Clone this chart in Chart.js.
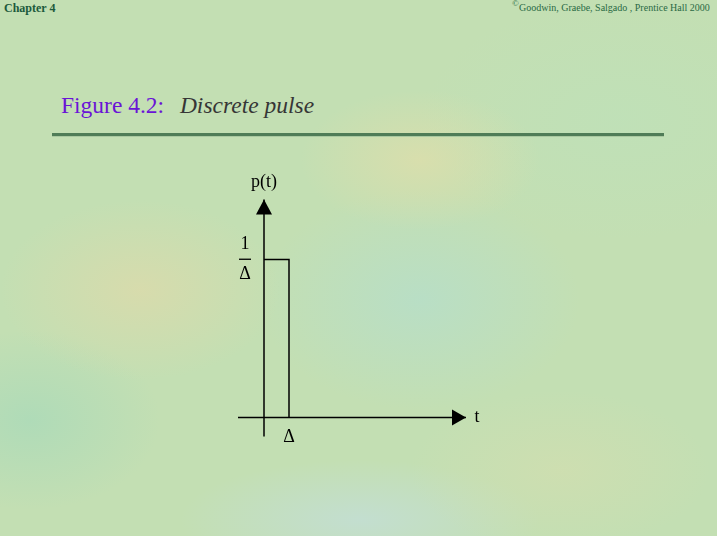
<!DOCTYPE html>
<html>
<head>
<meta charset="utf-8">
<script src="https://cdn.jsdelivr.net/npm/chart.js@4/dist/chart.umd.min.js"></script>
<style>
  html, body { margin: 0; padding: 0; }
  body {
    width: 717px; height: 536px; overflow: hidden; position: relative;
    background-color: #c3dfb3;
    background-image:
      radial-gradient(ellipse 140px 90px at 140px 290px, rgba(222,218,170,0.75), rgba(222,218,170,0) 100%),
      radial-gradient(ellipse 120px 70px at 420px 160px, rgba(225,222,170,0.7), rgba(225,222,170,0) 100%),
      radial-gradient(ellipse 160px 110px at 420px 300px, rgba(180,222,205,0.7), rgba(180,222,205,0) 100%),
      radial-gradient(ellipse 130px 90px at 30px 420px, rgba(170,218,185,0.8), rgba(170,218,185,0) 100%),
      radial-gradient(ellipse 150px 80px at 560px 470px, rgba(210,222,175,0.7), rgba(210,222,175,0) 100%),
      radial-gradient(ellipse 200px 120px at 620px 120px, rgba(190,225,185,0.7), rgba(190,225,185,0) 100%),
      radial-gradient(ellipse 180px 60px at 360px 520px, rgba(195,222,215,0.8), rgba(195,222,215,0) 100%);
  }
  .chap { position: absolute; left: 4px; top: 1px; font: bold 12px "Liberation Serif", serif; color: #1c5a3c; }
  .copy { position: absolute; left: 519px; top: 2px; font: 10px "Liberation Serif", serif; color: #2a6a45; }
  .copy .dot { position: absolute; left: -7px; top: -4px; font-size: 9px; }
  .title { position: absolute; left: 61px; top: 92px; font: 23.5px "Liberation Serif", serif; color: #6a14d6; white-space: pre; }
  .title i { color: #363636; margin-left: 4px; }
  .rule { position: absolute; left: 52px; top: 133px; width: 612px; height: 3px; background: #4f7c57; border-bottom: 1px solid #a9c9a0; }
  #wrap { position: absolute; left: 214px; top: 149px; width: 300px; height: 316px; }
</style>
</head>
<body>
<div class="chap">Chapter 4</div>
<div class="copy"><span class="dot">&copy;</span>Goodwin, Graebe, Salgado , Prentice Hall 2000</div>
<div class="title">Figure 4.2:  <i>Discrete pulse</i></div>
<div class="rule"></div>
<div id="wrap"><canvas id="grafico" width="300" height="316"></canvas></div>
<script>
// dados do pulso discreto (t em unidades de delta, p em unidades de 1/delta)
const pulsoT = [0, 1, 1];
const pulsoP = [1, 1, 0];

// eixos desenhados como linhas com seta na ponta
const eixoT = [-1.04, 8.08];
const eixoP = [-0.12, 1.38];

// rotulos do grafico
const rotuloEixoX = 't';
const rotuloEixoY = 'p(t)';
const rotuloDelta = 'Δ';
const rotuloAltura = ['1', 'Δ'];

const fonte = '18px "Liberation Serif", serif';

// plugin que desenha as setas dos eixos e os textos
const setasERotulos = {
    id: 'setasERotulos',
    afterDatasetsDraw(chart) {
        const ctx = chart.ctx;
        const x = chart.scales.x;
        const y = chart.scales.y;
        const x0 = x.getPixelForValue(0);
        const y0 = y.getPixelForValue(0);

        ctx.save();
        ctx.fillStyle = '#000';

        // seta do eixo t
        const pontaX = x.getPixelForValue(eixoT[1]);
        ctx.beginPath();
        ctx.moveTo(pontaX, y0);
        ctx.lineTo(pontaX - 14, y0 - 8);
        ctx.lineTo(pontaX - 14, y0 + 8);
        ctx.closePath();
        ctx.fill();

        // seta do eixo p
        const pontaY = y.getPixelForValue(eixoP[1]);
        ctx.beginPath();
        ctx.moveTo(x0, pontaY);
        ctx.lineTo(x0 - 8, pontaY + 15);
        ctx.lineTo(x0 + 8, pontaY + 15);
        ctx.closePath();
        ctx.fill();

        ctx.font = fonte;
        ctx.textAlign = 'center';
        ctx.textBaseline = 'middle';
        ctx.fillText(rotuloEixoY, x0, pontaY - 17);
        ctx.fillText(rotuloEixoX, pontaX + 11, y0);
        ctx.fillText(rotuloDelta, x.getPixelForValue(1), y0 + 20);

        // fracao 1/delta ao lado do topo do pulso
        const yTopo = y.getPixelForValue(1);
        const xFrac = x0 - 19;
        ctx.fillText(rotuloAltura[0], xFrac, yTopo - 15);
        ctx.fillText(rotuloAltura[1], xFrac, yTopo + 15);
        ctx.fillRect(xFrac - 6, yTopo - 1, 12, 1.3);
        ctx.restore();
    }
};

const linha = { borderColor: '#000', borderWidth: 1.5, pointRadius: 0, showLine: true, fill: false, tension: 0 };

new Chart(document.querySelector('#grafico'), {
    type: 'scatter',
    data: {
        datasets: [
            { ...linha, label: 'eixo t', data: eixoT.map(t => ({ x: t, y: 0 })) },
            { ...linha, label: 'eixo p', data: eixoP.map(p => ({ x: 0, y: p })) },
            { ...linha, label: 'pulso', data: pulsoT.map((t, i) => ({ x: t, y: pulsoP[i] })) }
        ]
    },
    options: {
        responsive: false,
        animation: false,
        layout: { padding: 0 },
        plugins: { legend: { display: false }, tooltip: { enabled: false } },
        scales: {
            x: { type: 'linear', min: -2, max: 10, display: false },
            y: { type: 'linear', min: -0.3, max: 1.7, display: false }
        }
    },
    plugins: [setasERotulos]
});
</script>
</body>
</html>
